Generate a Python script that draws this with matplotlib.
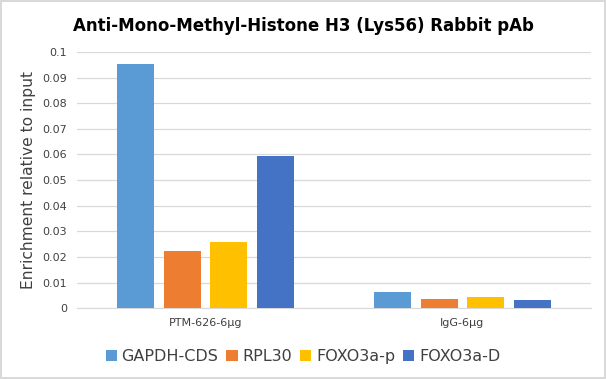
import matplotlib.pyplot as plt
import numpy as np

groups = ["PTM-626-6μg", "IgG-6μg"]
series = ["GAPDH-CDS", "RPL30", "FOXO3a-p", "FOXO3a-D"]
gapdh = [0.0953, 0.0063]
rpl30 = [0.0223, 0.0035]
foxo3a_p = [0.0258, 0.0044]
foxo3a_d = [0.0594, 0.0032]
colors = ["#5B9BD5", "#ED7D31", "#FFC000", "#4472C4"]
yticks = [0, 0.01, 0.02, 0.03, 0.04, 0.05, 0.06, 0.07, 0.08, 0.09, 0.1]
ytick_labels = ["0", "0.01", "0.02", "0.03", "0.04", "0.05", "0.06", "0.07", "0.08", "0.09", "0.1"]

fig = plt.figure(figsize=(6.06, 3.79), dpi=100)
fig.patch.set_edgecolor("#D9D9D9")
fig.patch.set_linewidth(1.5)
ax = fig.add_axes([0.127, 0.187, 0.848, 0.676])

x = np.arange(len(groups))
width = 0.144
step = 0.181
for i, (name, vals) in enumerate(zip(series, [gapdh, rpl30, foxo3a_p, foxo3a_d])):
    ax.bar(x + (i - 1.5) * step, vals, width, color=colors[i], label=name, zorder=3)

ax.set_xlim(-0.5, 1.5)
ax.set_ylim(0, 0.1)
ax.set_yticks(yticks)
ax.set_yticklabels(ytick_labels, fontsize=8, color="#404040")
ax.set_xticks(x)
ax.set_xticklabels(groups, fontsize=8, color="#404040")
ax.tick_params(axis="both", length=0, pad=7)
ax.grid(axis="y", color="#D9D9D9", linewidth=0.9, zorder=0)
for s in ["top", "right", "left"]:
    ax.spines[s].set_visible(False)
ax.spines["bottom"].set_color("#D9D9D9")
ax.set_ylabel("Enrichment relative to input", fontsize=11.2, color="#404040", labelpad=5)

fig.suptitle("Anti-Mono-Methyl-Histone H3 (Lys56) Rabbit pAb", fontsize=12,
             fontweight="bold", x=0.5, y=0.955)
fig.legend(loc="center", bbox_to_anchor=(0.5, 0.06), ncol=4, frameon=False,
           fontsize=11.5, handlelength=0.7, handleheight=0.7, handletextpad=0.3,
           columnspacing=0.5, labelcolor="#404040")

fig.savefig("out.png", dpi=100, edgecolor=fig.get_edgecolor())
